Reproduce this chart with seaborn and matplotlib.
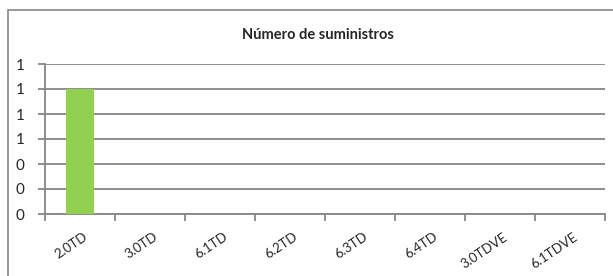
import matplotlib
matplotlib.use("Agg")
import matplotlib.pyplot as plt
import seaborn as sns
import pandas as pd
from matplotlib.patches import Rectangle
from matplotlib.transforms import ScaledTranslation

# datos del gráfico
tarifas = ["2.0TD", "3.0TD", "6.1TD", "6.2TD", "6.3TD", "6.4TD", "3.0TDVE", "6.1TDVE"]
suministros = [1, 0, 0, 0, 0, 0, 0, 0]
y_ticks = [0, 0.2, 0.4, 0.6, 0.8, 1.0, 1.2]
y_labels = ["0", "0", "0", "1", "1", "1", "1"]

df = pd.DataFrame({"tarifa": tarifas, "n": suministros})

sns.set_style("white")
plt.rcParams["font.family"] = ["Lato", "DejaVu Sans"]

fig = plt.figure(figsize=(6.13, 2.76), dpi=100)
ax = fig.add_axes([45 / 613, 62 / 276, 560 / 613, 150 / 276])

sns.barplot(data=df, x="tarifa", y="n", color="#92D050", width=0.41,
            saturation=1, linewidth=0, edgecolor="none", ax=ax, zorder=3)

grid_c = "#868686"
ax.set_ylim(0, 1.2)
ax.set_xlim(-0.5, len(tarifas) - 0.5)
ax.set_yticks(y_ticks, labels=y_labels)
ax.grid(axis="y", color=grid_c, lw=1.3, zorder=0)
ax.set_axisbelow(True)

for s in ["top", "right"]:
    ax.spines[s].set_visible(False)
for s in ["left", "bottom"]:
    ax.spines[s].set_color(grid_c)
    ax.spines[s].set_linewidth(1.3)

ax.tick_params(axis="y", length=5, width=1.3, color=grid_c, labelsize=11, pad=10,
               left=True)
ax.tick_params(axis="x", which="major", length=0, labelsize=9.5, pad=12)
ax.set_xticks([i - 0.5 for i in range(len(tarifas) + 1)], minor=True)
ax.tick_params(axis="x", which="minor", length=5, width=1.3, color=grid_c, bottom=True)

off = ScaledTranslation(0.03, 0, fig.dpi_scale_trans)
for lab in ax.get_xticklabels():
    lab.set_rotation(34)
    lab.set_ha("right")
    lab.set_rotation_mode("anchor")
    lab.set_transform(lab.get_transform() + off)

ax.set_xlabel("")
ax.set_ylabel("")

fig.text(318 / 613, 1 - 35 / 276, "Número de suministros", ha="center", va="center",
         fontsize=10.5, fontweight="bold")

# marco del gráfico
fig.patches.append(Rectangle((8 / 613, -0.1), 1.2, 1 - 10 / 276 + 0.1,
                             transform=fig.transFigure, fill=False,
                             edgecolor="#888888", lw=1.2))

fig.savefig("out.png", dpi=100)
